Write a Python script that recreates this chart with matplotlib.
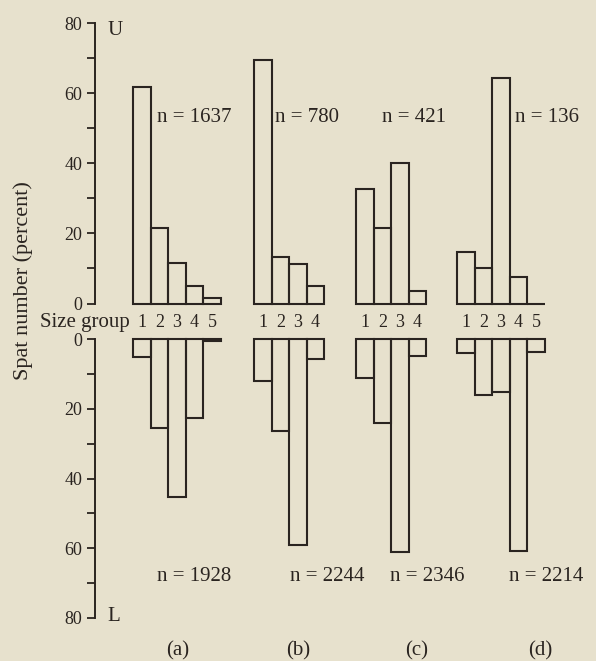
import matplotlib
matplotlib.use("Agg")
import matplotlib.pyplot as plt

# ---------------- data ----------------
groups = ["(a)", "(b)", "(c)", "(d)"]
size_groups = [["1", "2", "3", "4", "5"], ["1", "2", "3", "4"],
               ["1", "2", "3", "4"], ["1", "2", "3", "4", "5"]]
upper_a = [61.7, 21.4, 11.5, 5.1, 1.5]
upper_b = [69.4, 13.2, 11.3, 5.1]
upper_c = [32.6, 21.4, 40.0, 3.7]
upper_d = [14.6, 10.0, 64.3, 7.7, 0.0]
lower_a = [5.1, 25.4, 45.4, 22.6, 0.5]
lower_b = [12.0, 26.3, 59.1, 5.7]
lower_c = [11.2, 24.0, 61.2, 4.8]
lower_d = [4.0, 16.0, 15.2, 60.9, 3.7]
n_upper = [1637, 780, 421, 136]
n_lower = [1928, 2244, 2346, 2214]
yticks_major = [0, 20, 40, 60, 80]
yticks_minor = [10, 30, 50, 70]

upper = [upper_a, upper_b, upper_c, upper_d]
lower = [lower_a, lower_b, lower_c, lower_d]

# ---------------- layout ----------------
BG = "#e7e1cd"
INK = "#2a2420"
FONT = "Liberation Serif"
plt.rcParams["font.family"] = [FONT, "DejaVu Serif"]

W, H = 596, 661
fig = plt.figure(figsize=(W / 100, H / 100), dpi=100, facecolor=BG)

group_start = [0.0, 6.895, 12.71, 18.46]
xlim = (-2.165, 26.38)
ax_left = 95 / W
ax_width = 1 - ax_left
up = fig.add_axes([ax_left, (H - 303.5) / H, ax_width, 280.5 / H])
lo = fig.add_axes([ax_left, (H - 618) / H, ax_width, 279 / H])

for ax in (up, lo):
    ax.set_facecolor("none")
    ax.set_xlim(*xlim)
    ax.set_ylim(0, 80)
    for s in ("top", "right", "bottom"):
        ax.spines[s].set_visible(False)
    ax.spines["left"].set_color(INK)
    ax.spines["left"].set_linewidth(1.4)
    ax.set_xticks([])
    ax.set_yticks(yticks_major)
    ax.set_yticks(yticks_minor, minor=True)
    ax.set_yticklabels([str(v) for v in yticks_major], fontsize=13, color=INK)
    ax.tick_params(axis="y", which="both", direction="out", length=6,
                   width=1.3, color=INK, pad=3)
lo.invert_yaxis()

for gi in range(4):
    xs = [group_start[gi] + i + 0.5 for i in range(len(upper[gi]))]
    up.bar(xs, upper[gi], width=1.0, facecolor="none", edgecolor=INK,
           linewidth=1.5, clip_on=False)
    lo.bar(xs, lower[gi], width=1.0, facecolor="none", edgecolor=INK,
           linewidth=1.5, clip_on=False)
    for x, lab in zip(xs, size_groups[gi]):
        up.text(x, -5.3, lab, ha="center", va="center", fontsize=13,
                color=INK, clip_on=False)

# n labels
n_up_x = [1.37, 8.09, 14.19, 21.77]
n_lo_x = [1.37, 8.95, 14.64, 21.42]
for gi in range(4):
    up.text(n_up_x[gi], 53, f"n = {n_upper[gi]}", ha="left", va="center",
            fontsize=15, color=INK)
    lo.text(n_lo_x[gi], 68, f"n = {n_lower[gi]}", ha="left", va="center",
            fontsize=15, color=INK, clip_on=False)

# panel letters
panel_x = [2.56, 9.4, 16.18, 23.19]
for gi in range(4):
    lo.text(panel_x[gi], 89.4, groups[gi], ha="center", va="center",
            fontsize=15, color=INK, clip_on=False)

up.text(-0.17, -5.3, "Size group", ha="right", va="center", fontsize=15,
        color=INK, clip_on=False)
up.text(-1.48, 78, "U", ha="left", va="center", fontsize=15, color=INK)
lo.text(-1.48, 79.7, "L", ha="left", va="center", fontsize=15, color=INK)

fig.text(23 / W, 1 - 281 / H, "Spat number (percent)", rotation=90,
         ha="center", va="center", fontsize=16, color=INK)

fig.savefig("out.png", dpi=100, facecolor=BG)
